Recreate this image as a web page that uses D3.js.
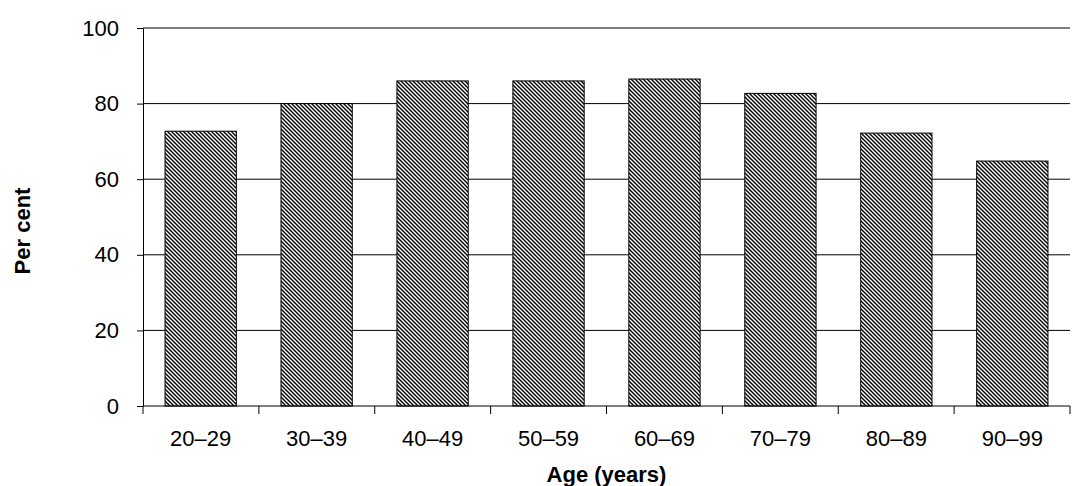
<!DOCTYPE html><html><head><meta charset="utf-8"><script src="https://cdn.jsdelivr.net/npm/d3@7"></script>
<style>body{margin:0;background:#fff}text{font-family:Arial,"Liberation Sans",sans-serif}</style></head><body><svg id="c" width="1077" height="486"></svg>
<script>
const categories=["20–29","30–39","40–49","50–59","60–69","70–79","80–89","90–99"];
const values=[72.7,80,86,86,86.5,82.7,72.2,64.8];
const ticks=[0,20,40,60,80,100];
const svg=d3.select("#c");
const L=143,R=1070,T=28,B=406;
const x=d3.scaleBand().domain(categories).range([L,R]).paddingInner(0.385).paddingOuter(0.19);
const y=d3.scaleLinear().domain([0,100]).range([B,T]);
const defs=svg.append("defs");
const p=defs.append("pattern").attr("id","h").attr("patternUnits","userSpaceOnUse").attr("width",4).attr("height",4);
p.append("rect").attr("width",4).attr("height",4).attr("fill","#fff");
p.append("path").attr("d","M-1,-1L5,5M-1,3L1,5M3,-1L5,1").attr("stroke","#000").attr("stroke-width",1.4);
svg.append("g").selectAll("line").data(ticks.filter(t=>t>0)).join("line").attr("x1",L).attr("x2",R).attr("y1",d=>y(d)).attr("y2",d=>y(d)).attr("stroke","#000").attr("stroke-width",1);
svg.append("g").selectAll("rect").data(values).join("rect").attr("x",(d,i)=>x(categories[i])).attr("width",x.bandwidth()).attr("y",d=>y(d)).attr("height",d=>B-y(d)).attr("fill","url(#h)").attr("stroke","#000").attr("stroke-width",1);
const ya=svg.append("g").attr("transform",`translate(${L},0)`).call(d3.axisLeft(y).tickValues(ticks).tickSize(6).tickPadding(18));
ya.attr("font-size",null).selectAll("text").style("font-size","22px").attr("fill","#000").attr("font-family","Arial");
const xa=svg.append("g").attr("transform",`translate(0,${B})`).call(d3.axisBottom(x).tickSize(0).tickPadding(24));
xa.attr("font-size",null).selectAll("text").style("font-size","22px").attr("fill","#000").attr("font-family","Arial");
xa.select(".domain").attr("d",`M${L},0H${R}`);
svg.append("g").selectAll("line").data(d3.range(9)).join("line").attr("x1",i=>L+i*(R-L)/8).attr("x2",i=>L+i*(R-L)/8).attr("y1",B).attr("y2",B+8).attr("stroke","#000");
svg.selectAll(".domain").attr("stroke","#000");
svg.append("text").attr("x",(L+R)/2).attr("y",482).attr("text-anchor","middle").style("font-size","22px").attr("font-weight","bold").text("Age (years)");
svg.append("text").attr("transform",`translate(30,${(T+B)/2+14}) rotate(-90)`).attr("text-anchor","middle").style("font-size","22px").attr("font-weight","bold").text("Per cent");
</script></body></html>
